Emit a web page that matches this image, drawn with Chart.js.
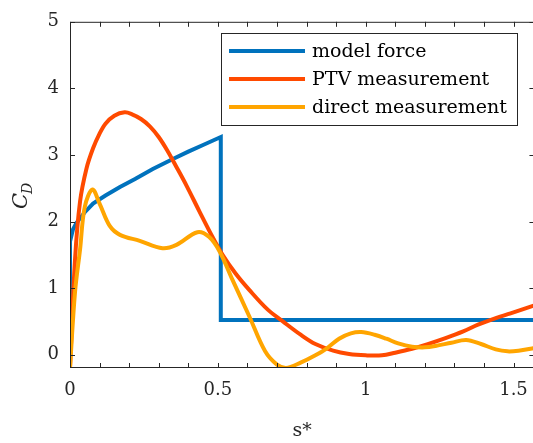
<!DOCTYPE html>
<html>
<head>
<meta charset="utf-8">
<script src="https://cdn.jsdelivr.net/npm/chart.js@4.4.1/dist/chart.umd.min.js"></script>
<style>
  html, body { margin: 0; padding: 0; background: #fff; overflow: hidden; }
  #wrap { width: 533px; height: 443px; overflow: hidden; position: relative; }
  canvas { display: block; }
</style>
</head>
<body>
<div id="wrap"><canvas id="c" width="540" height="443"></canvas></div>
<script>
// ---- data ----
const seriesNames = ['model force', 'PTV measurement', 'direct measurement'];

const modelX = [0, 0, 0.01, 0.022, 0.05, 0.078, 0.12, 0.169, 0.22, 0.28, 0.348, 0.4, 0.45, 0.51, 0.51, 1.58];
const modelY = [0, 1.7, 1.88, 1.98, 2.14, 2.27, 2.39, 2.52, 2.64, 2.79, 2.94, 3.05, 3.15, 3.27, 0.52, 0.52];

const ptvX = [0, 0.017, 0.034, 0.056, 0.078, 0.1, 0.12, 0.15, 0.185, 0.21, 0.24, 0.27, 0.3, 0.33, 0.36, 0.394, 0.438, 0.483, 0.516, 0.56, 0.607, 0.668, 0.72, 0.78, 0.83, 0.89, 0.944, 1.0, 1.055, 1.1, 1.157, 1.21, 1.27, 1.33, 1.38, 1.44, 1.49, 1.5708];
const ptvY = [-0.2, 1.43, 2.3, 2.8, 3.1, 3.32, 3.47, 3.59, 3.64, 3.61, 3.54, 3.43, 3.27, 3.06, 2.82, 2.54, 2.15, 1.76, 1.5, 1.22, 0.97, 0.68, 0.5, 0.3, 0.16, 0.06, 0.01, -0.01, -0.01, 0.03, 0.09, 0.16, 0.25, 0.35, 0.45, 0.55, 0.62, 0.74];

const directX = [0, 0.017, 0.034, 0.05, 0.076, 0.1, 0.135, 0.169, 0.236, 0.313, 0.36, 0.431, 0.47, 0.506, 0.55, 0.607, 0.66, 0.7, 0.73, 0.78, 0.83, 0.87, 0.91, 0.95, 0.985, 1.03, 1.07, 1.11, 1.157, 1.2, 1.236, 1.29, 1.34, 1.39, 1.44, 1.48, 1.517, 1.5708];
const directY = [-0.2, 0.94, 1.58, 2.22, 2.48, 2.27, 1.93, 1.8, 1.71, 1.6, 1.65, 1.84, 1.77, 1.55, 1.12, 0.57, 0.05, -0.15, -0.2, -0.12, -0.01, 0.1, 0.24, 0.32, 0.34, 0.3, 0.24, 0.17, 0.12, 0.11, 0.13, 0.18, 0.22, 0.16, 0.08, 0.05, 0.06, 0.1];

const xTickValues = [0, 0.1, 0.2, 0.3, 0.4, 0.5, 0.6, 0.7, 0.8, 0.9, 1.0, 1.1, 1.2, 1.3, 1.4, 1.5];
const xMajorValues = [0, 0.5, 1, 1.5];
const xMajorLabels = ['0', '0.5', '1', '1.5'];
const yTickValues = [0, 1, 2, 3, 4, 5];
const yTickLabels = ['0', '1', '2', '3', '4', '5'];
const xTitle = 's*';
const yTitleMain = 'C';
const yTitleSub = 'D';

// ---- styling ----
const colors = ['#0072BD', '#FF4A00', '#FFA500'];
const axisColor = '#262626';
const FONT = '"DejaVu Serif", "Liberation Serif", serif';

function pts(xs, ys) { return xs.map((x, i) => ({ x: x, y: ys[i] })); }

const framePlugin = {
  id: 'frame',
  afterDatasetsDraw(chart) {
    const { ctx, chartArea: a, scales } = chart;
    const xs = scales.x, ys = scales.y;
    ctx.save();
    ctx.strokeStyle = axisColor;
    ctx.lineWidth = 1;
    ctx.beginPath();
    ctx.rect(a.left + 0.5, a.top + 0.5, a.right - a.left - 1, a.bottom - a.top - 1);
    ctx.stroke();
    const tl = 5;
    ctx.beginPath();
    xTickValues.forEach(v => {
      const px = Math.round(xs.getPixelForValue(v)) + 0.5;
      ctx.moveTo(px, a.bottom); ctx.lineTo(px, a.bottom - tl);
      ctx.moveTo(px, a.top); ctx.lineTo(px, a.top + tl);
    });
    yTickValues.forEach(v => {
      const py = Math.round(ys.getPixelForValue(v)) + 0.5;
      ctx.moveTo(a.left, py); ctx.lineTo(a.left + tl, py);
      ctx.moveTo(a.right, py); ctx.lineTo(a.right - tl, py);
    });
    ctx.stroke();

    // legend
    const bx = 221, by = 33, bw = 296, bh = 92;
    ctx.fillStyle = '#fff';
    ctx.fillRect(bx, by, bw, bh);
    ctx.strokeStyle = axisColor;
    ctx.strokeRect(bx + 0.5, by + 0.5, bw, bh);
    ctx.font = '19px ' + FONT;
    ctx.textBaseline = 'middle';
    ctx.textAlign = 'left';
    chart.data.datasets.forEach((ds, i) => {
      const y = 51 + i * 28;
      ctx.strokeStyle = ds.borderColor;
      ctx.lineWidth = 4;
      ctx.beginPath();
      ctx.moveTo(229, y); ctx.lineTo(305, y);
      ctx.stroke();
      ctx.fillStyle = '#000';
      ctx.fillText(ds.label, 312, y + 1);
    });

    // y title C_D
    ctx.save();
    ctx.translate(27, 209);
    ctx.rotate(-Math.PI / 2);
    ctx.fillStyle = axisColor;
    ctx.textBaseline = 'alphabetic';
    ctx.font = 'italic 21px ' + FONT;
    ctx.fillText(yTitleMain, 0, 0);
    const w = ctx.measureText(yTitleMain).width;
    ctx.font = 'italic 14px ' + FONT;
    ctx.fillText(yTitleSub, w - 1, 5);
    ctx.restore();
    ctx.restore();
  }
};

new Chart(document.getElementById('c'), {
  type: 'scatter',
  data: {
    datasets: [
      { label: seriesNames[0], data: pts(modelX, modelY), borderColor: colors[0], borderWidth: 4, showLine: true, pointRadius: 0, tension: 0, order: 3 },
      { label: seriesNames[1], data: pts(ptvX, ptvY), borderColor: colors[1], borderWidth: 4, showLine: true, pointRadius: 0, tension: 0.35, order: 2 },
      { label: seriesNames[2], data: pts(directX, directY), borderColor: colors[2], borderWidth: 4, showLine: true, pointRadius: 0, tension: 0.35, order: 1 }
    ]
  },
  options: {
    responsive: false,
    animation: false,
    layout: { padding: { top: 15, right: 4, left: 0, bottom: 0 } },
    plugins: { legend: { display: false }, tooltip: { enabled: false } },
    scales: {
      x: {
        type: 'linear', min: 0, max: 1.5708,
        afterBuildTicks: s => { s.ticks = xTickValues.map(v => ({ value: v })); },
        afterFit: s => { s.height = 75; },
        grid: { display: false, drawTicks: false },
        border: { display: false },
        ticks: {
          autoSkip: false, maxRotation: 0, padding: 12, color: axisColor,
          font: { family: FONT, size: 18 },
          callback: v => { const k = xMajorValues.findIndex(m => Math.abs(m - v) < 1e-6); return k >= 0 ? xMajorLabels[k] : ''; }
        },
        title: { display: true, text: xTitle, color: axisColor, font: { family: FONT, size: 19 }, padding: { top: 0, bottom: 1 } }
      },
      y: {
        type: 'linear', min: -0.2, max: 5,
        afterBuildTicks: s => { s.ticks = yTickValues.map(v => ({ value: v })); },
        afterFit: s => { s.width = 70; },
        grid: { display: false, drawTicks: false },
        border: { display: false },
        ticks: {
          autoSkip: false, padding: 11, color: axisColor,
          font: { family: FONT, size: 18 },
          callback: v => { const k = yTickValues.indexOf(v); return k >= 0 ? yTickLabels[k] : ''; }
        }
      }
    }
  },
  plugins: [framePlugin]
});
</script>
</body>
</html>
